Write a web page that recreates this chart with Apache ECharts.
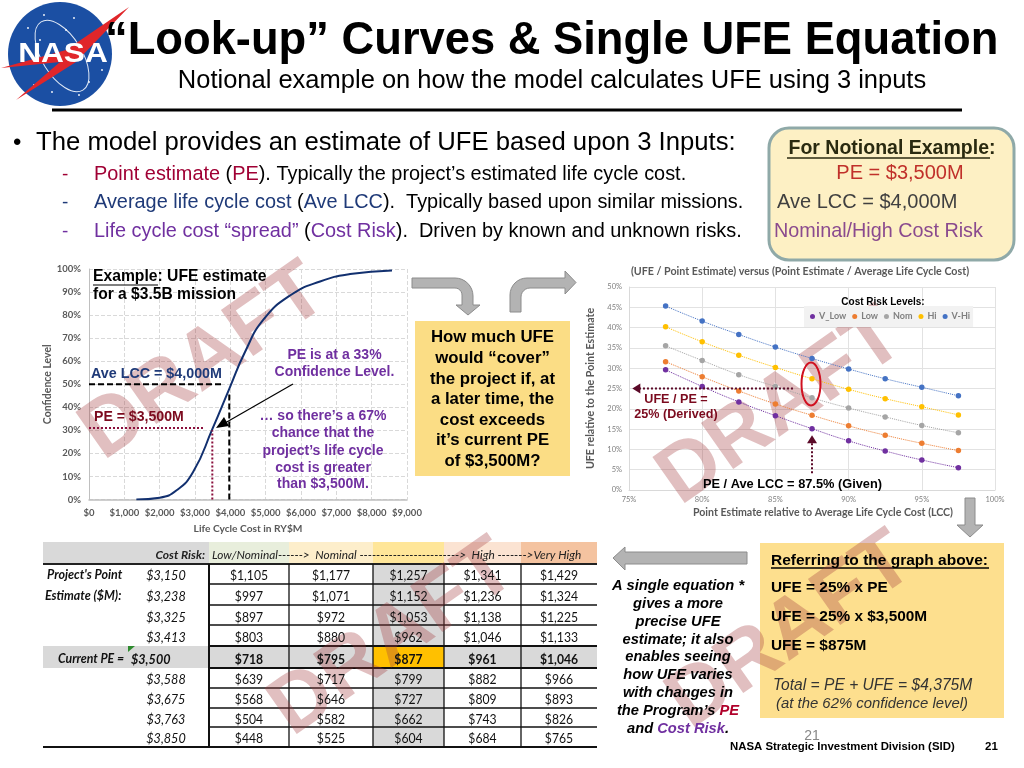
<!DOCTYPE html>
<html><head><meta charset="utf-8">
<style>html,body{margin:0;padding:0;background:#fff}#c{width:1024px;height:768px}</style>
<script src="https://cdn.jsdelivr.net/npm/echarts@6/dist/echarts.min.js"></script>
</head><body><div id="c"></div>
<script>
// ---------- data ----------
const curveCost = [1340,2000,2480,2950,3490,3970,4415,4935,5690,6540,7390,8575];
const curveConf = [0,0.8,4,12,30.5,48,64,78,88.5,94.6,97.8,99.4];
const aveLccH = [[0,50],[3750,50]];
const aveLccV = [[3970,0],[3970,46]];
const peH = [[0,31],[3235,31]];
const peV = [[3490,0],[3490,30]];

const ratio = [77.5,80,82.5,85,87.5,90,92.5,95,97.5];
const vLow = [29.6,25.5,21.7,18.3,15.1,12.1,9.6,7.4,5.5];
const low  = [31.6,27.9,24.4,21.2,18.4,15.8,13.5,11.5,9.7];
const nom  = [35.5,31.9,28.4,25.5,22.7,20.2,18.0,15.9,14.1];
const hi   = [40.2,36.5,33.2,30.2,27.4,24.8,22.5,20.5,18.5];
const vHi  = [45.3,41.6,38.3,35.2,32.4,29.8,27.4,25.3,23.2];
const riskNames = ['V_Low','Low','Nom','Hi','V-Hi'];
const riskColors = ['#7030a0','#ed7d31','#a5a5a5','#ffc000','#4472c4'];

const tablePE = [3150,3238,3325,3413,3500,3588,3675,3763,3850];
const tableLow = [1105,997,897,803,718,639,568,504,448];
const tableLowNom = [1177,1071,972,880,795,717,646,582,525];
const tableNom = [1257,1152,1053,962,877,799,727,662,604];
const tableHigh = [1341,1236,1138,1046,961,882,809,743,684];
const tableVHigh = [1429,1324,1225,1133,1046,966,893,826,765];

// ---------- fonts / helpers ----------
const AR = '"Liberation Sans", Arial, sans-serif';
const CA = 'Lato, "Open Sans", sans-serif';
const g = [];
function T(text,x,y,o){o=o||{};const size=o.size||14;
  g.push({type:'text',z:o.z||10,silent:true,rotation:o.rot||0,scaleX:o.sx||1,x:x,y:o.rot?y:y+size*0.08,
    style:{text:text,x:0,y:0,fontFamily:o.font||AR,fontSize:size,fontWeight:o.bold?'bold':'normal',
      fontStyle:o.italic?'italic':'normal',fill:o.color||'#000',align:o.align||'left',verticalAlign:'middle',
      rich:o.rich,opacity:o.opacity==null?1:o.opacity}});
}
function L(x1,y1,x2,y2,c,w,z,dash){g.push({type:'line',z:z||3,silent:true,shape:{x1,y1,x2,y2},style:{stroke:c,lineWidth:w,lineDash:dash}});}
function R(x,y,w,h,c,z,extra){g.push({type:'rect',z:z||1,silent:true,shape:Object.assign({x,y,width:w,height:h},extra&&extra.shape),style:Object.assign({fill:c},extra&&extra.style)});}
function P(points,fill,stroke,z,lw){g.push({type:'polygon',z:z||2,silent:true,shape:{points},style:{fill,stroke:stroke||null,lineWidth:lw==null?1:lw}});}
function arc(cx,cy,r,a0,a1,n){const o=[];for(let i=0;i<=n;i++){const a=(a0+(a1-a0)*i/n)*Math.PI/180;o.push([cx+r*Math.cos(a),cy+r*Math.sin(a)]);}return o;}

// ---------- logo ----------
g.push({type:'circle',z:2,silent:true,shape:{cx:60,cy:54,r:52},style:{fill:'#1b4fa3'}});
g.push({type:'ellipse',z:3,silent:true,rotation:0.55,x:62,y:56,shape:{cx:0,cy:0,rx:20,ry:40},style:{fill:null,stroke:'#dfe8f5',lineWidth:1}});
[[28,28],[44,15],[74,18],[94,35],[34,85],[52,92],[89,82],[102,70],[24,48],[66,30],[79,95],[40,40]].forEach(p=>
  g.push({type:'circle',z:3,silent:true,shape:{cx:p[0],cy:p[1],r:0.9},style:{fill:'#fff'}}));
P([[129,7],[66,50],[1,68],[60,62],[16,100],[76,62]],'#e0262a',null,3,0);
T('NASA',63,52,{size:28,bold:true,color:'#fff',align:'center',z:4,sx:1.13});

// ---------- header ----------
T('“Look-up” Curves & Single UFE Equation',105,38,{size:45.3,bold:true});
T('Notional example on how the model calculates UFE using 3 inputs',552,79,{size:25.5,align:'center'});
L(52,110,962,110,'#000',3);

// ---------- bullets ----------
T('•',13,141,{size:24});
T('The model provides an estimate of UFE based upon 3 Inputs:',36,141,{size:25.7});
const bodyTok=(c)=>({fill:c,fontFamily:AR,fontSize:19.9,fontWeight:'normal'});
const bRich={r:bodyTok('#a00034'),b:bodyTok('#1f3a78'),p:bodyTok('#7030a0'),k:bodyTok('#000')};
T('-',62,173,{size:19,color:'#a00034'});T('-',62,201,{size:19,color:'#1f3a78'});T('-',62,230,{size:19,color:'#7030a0'});
T('{r|Point estimate} {k|(}{r|PE}{k|). Typically the project’s estimated life cycle cost.}',94,173,{rich:bRich,size:19.9});
T('{b|Average life cycle cost} {k|(}{b|Ave LCC}{k|).  Typically based upon similar missions.}',94,201,{rich:bRich,size:19.9});
T('{p|Life cycle cost “spread”} {k|(}{p|Cost Risk}{k|).  Driven by known and unknown risks.}',94,230,{rich:bRich,size:19.9});

// notional box
R(769,128,245,132,'#fdf0c4',1,{shape:{r:20},style:{stroke:'#8fa9a8',lineWidth:3}});
T('For Notional Example:',892,147,{size:19.5,bold:true,align:'center',color:'#2a2a10'});
L(787,158,990,158,'#2a2a10',1.5);
T('PE = $3,500M',900,172,{size:20,align:'center',color:'#c0302a'});
T('Ave LCC = $4,000M',777,201,{size:20,color:'#404040'});
T('Nominal/High Cost Risk',774,230,{size:19.8,color:'#8a4a8e'});

// ---------- left chart annotations ----------
T('Example: UFE estimate',93,275,{size:15.7,bold:true});
L(93,285,158,285,'#000',1.2);
T('for a $3.5B mission',93,293,{size:15.6,bold:true});
T('Ave LCC = $4,000M',91,373,{size:14.3,bold:true,color:'#1f3a78'});
T('PE = $3,500M',94,416,{size:14.1,bold:true,color:'#7b0a1e'});
const purple='#7030a0';
[['PE is at a 33%',334.5,354],['Confidence Level.',334.5,371],['… so there’s a 67%',323,415],['chance that the',323,432],['project’s life cycle',323,450],['cost is greater',323,467],['than $3,500M.',323,483]]
 .forEach(a=>T(a[0],a[1],a[2],{size:14,bold:true,color:purple,align:'center'}));
L(293,384,225,423,'#000',1.2,8);
P([[216,428],[224,417],[229,426]],'#000',null,8,0);

// curved arrows & middle box
const curveA=[[412,278],[455,278]].concat(arc(455,296,18,-90,0,8),[[473,305],[480,305],[468,315],[456,305],[462,305]],arc(455,295,7,0,-90,6),[[412,288]]);
P(curveA,'#b3b3b3','#8c8c8c',2,1);
const curveB=[[510,312]].concat(arc(527,295,17,180,270,8),[[565,278],[565,271],[576,282.5],[565,294],[565,288],[530,288]],arc(530,297,9,270,180,6),[[521,312]]);
P(curveB,'#b3b3b3','#8c8c8c',2,1);
R(415,321,155,155,'#fbdd85',1);
[['How much UFE',336],['would “cover”',357],['the project if, at',378],['a later time, the',398],['cost exceeds',419],['it’s current PE',439],['of $3,500M?',460]]
 .forEach(a=>T(a[0],492.5,a[1],{size:16.8,bold:true,align:'center'}));

// ---------- right chart annotations ----------
T('(UFE / Point Estimate) versus (Point Estimate / Average Life Cycle Cost)',800,271,{font:CA,size:10.7,bold:true,color:'#595959',align:'center'});
T('Cost Risk Levels:',883,301,{size:10,bold:true,align:'center'});
L(842,307.5,924,307.5,'#000',1);
g.push({type:'ellipse',z:8,silent:true,shape:{cx:811,cy:384,rx:9.5,ry:21.5},style:{fill:null,stroke:'#d01020',lineWidth:2}});
T('UFE / PE =',676,399,{size:12.6,bold:true,color:'#7b0a1e',align:'center'});
T('25% (Derived)',676,414,{size:12.6,bold:true,color:'#7b0a1e',align:'center'});
T('PE / Ave LCC = 87.5% (Given)',792.5,483,{size:12.8,bold:true,align:'center'});
P([[965,498],[975,498],[975,525],[983,525],[970,537],[957,525],[965,525]],'#b3b3b3','#8c8c8c',2,1);

// ---------- table ----------
const colX=[209,289,373,444,521,597], rowY=[564,584,605,625,646,668,688,708,727,747], rowC=[574,595,616,636,658,678,698,718,737];
R(43,542,166,22,'#d9d9d9',1);
const hdr=['#e8eedc','#fdeecb','#ffe699','#fbe3d2','#f4c3a0'];
hdr.forEach((c,i)=>R(colX[i],542,colX[i+1]-colX[i],22,c,1));
R(373,564,71,183,'#d9d9d9',1);
R(43,646,554,22,'#d9d9d9',1);
R(373,647,71,20,'#ffc000',1);
T('Cost Risk:',205,554,{font:CA,size:12,bold:true,italic:true,align:'right',color:'#222'});
T('Low/Nominal------>  Nominal ------------------------>  High ------->Very High',212,554,{font:CA,size:11.85,italic:true,color:'#222'});
rowY.forEach((y,i)=>{const heavy=(i===0||i===4||i===5||i===9);L(i===9?43:209,y,597,y,i===0?'#222':'#111',heavy?2:1.3,3);});
L(43,564,209,564,'#222',2,3);
colX.slice(0,5).forEach((x,i)=>L(x,564,x,747,'#111',i===0?2:1.3,3));
const cols=[tableLow,tableLowNom,tableNom,tableHigh,tableVHigh];
const fmt=v=>'$'+v.toLocaleString('en-US');
tablePE.forEach((pe,r)=>{
  const cur=r===4;
  if(cur)T(fmt(pe),131,rowC[r],{font:CA,size:14,bold:true,italic:true,color:'#111',sx:0.9});
  else T(fmt(pe),166,rowC[r],{font:CA,size:14,italic:true,align:'center',color:'#111',sx:0.9});
  cols.forEach((col,c)=>T(fmt(col[r]),(colX[c]+colX[c+1])/2,rowC[r],{font:CA,size:14,bold:cur,align:'center',color:'#111',sx:0.87}));
});
T('Project\'s Point',47,574,{font:CA,size:12.5,bold:true,italic:true,color:'#111'});
T('Estimate ($M):',45,595,{font:CA,size:12.4,bold:true,italic:true,color:'#111'});
T('Current PE =',58,658,{font:CA,size:12.3,bold:true,italic:true,color:'#111'});
P([[128,646],[135,646],[128,652]],'#2e8b2e',null,4,0);

// ---------- lower right ----------
P([[613,558],[625,547],[625,552],[747,552],[747,564],[625,564],[625,570]],'#b3b3b3','#8c8c8c',2,1);
const itTok=(c)=>({fill:c,fontFamily:AR,fontSize:14.7,fontWeight:'bold',fontStyle:'italic'});
[['A single equation *',585],['gives a more',603],['precise UFE',621],['estimate; it also',639],['enables seeing',656],['how UFE varies',674],['with changes in',692]]
 .forEach(a=>T(a[0],678,a[1],{size:14.7,bold:true,italic:true,align:'center'}));
T('{k|the Program’s }{r|PE}',678,710,{size:14.7,bold:true,italic:true,align:'center',rich:{k:itTok('#000'),r:itTok('#b0002a')}});
T('{k|and }{p|Cost Risk}{k|.}',678,728,{size:14.7,bold:true,italic:true,align:'center',rich:{k:itTok('#000'),p:itTok(purple)}});
R(760,543,244,175,'#fddf8e',1);
T('Referring to the graph above:',771,559,{size:15.5,bold:true});
L(771,568,989,568,'#000',1.3);
T('UFE = 25% x PE',771,587,{size:15.4,bold:true});
T('UFE = 25% x $3,500M',771,616,{size:15.4,bold:true});
T('UFE = $875M',771,645,{size:15.4,bold:true});
T('Total = PE + UFE = $4,375M',773,684,{size:15.6,italic:true,color:'#333'});
T('(at the 62% confidence level)',776,703,{size:14.9,italic:true,color:'#333'});
T('21',812,735,{size:14,color:'#888',align:'center'});
T('NASA Strategic Investment Division (SID)',730,746,{size:11.4,bold:true});
T('21',985,746,{size:11.5,bold:true});

// ---------- DRAFT watermarks ----------
[[204,363],[781,408],[393,639],[791,632]].forEach(p=>
  T('DRAFT',p[0],p[1],{size:82,bold:true,align:'center',rot:35*Math.PI/180,color:'rgba(165,60,65,0.33)',z:5}));

// ---------- series ----------
const ax={fontFamily:CA,fontWeight:'bold'};
const rows=[vLow,low,nom,hi,vHi];
const series=[
  {name:'CDF',type:'line',xAxisIndex:0,yAxisIndex:0,smooth:0.5,showSymbol:false,z:6,data:curveCost.map((x,i)=>[x,curveConf[i]]),lineStyle:{color:'#12306f',width:2}},
  {type:'line',xAxisIndex:0,yAxisIndex:0,showSymbol:false,z:6,data:aveLccH,lineStyle:{color:'#000',width:2,type:[6,3]}},
  {type:'line',xAxisIndex:0,yAxisIndex:0,showSymbol:false,z:6,data:aveLccV,lineStyle:{color:'#000',width:2,type:[6,3]}},
  {type:'line',xAxisIndex:0,yAxisIndex:0,showSymbol:false,z:6,data:peH,lineStyle:{color:'#8a0f3c',width:2,type:[2,2]}},
  {type:'line',xAxisIndex:0,yAxisIndex:0,showSymbol:false,z:6,data:peV,lineStyle:{color:'#8a0f3c',width:2,type:[2,2]}}
];
rows.forEach((v,i)=>series.push({name:riskNames[i],type:'line',xAxisIndex:1,yAxisIndex:1,smooth:true,z:6,symbol:'circle',symbolSize:5.5,
  itemStyle:{color:riskColors[i]},lineStyle:{color:riskColors[i],width:1,type:'dotted'},data:ratio.map((x,j)=>[x,v[j]])}));
series.push({type:'line',xAxisIndex:1,yAxisIndex:1,z:7,lineStyle:{color:'#5b0a28',width:2,type:[2,2]},itemStyle:{color:'#5b0a28'},
  data:[{value:[86.2,25],symbol:'none'},{value:[75.5,25],symbol:'triangle',symbolSize:[10,8],symbolRotate:90}]});
series.push({type:'line',xAxisIndex:1,yAxisIndex:1,z:7,lineStyle:{color:'#5b0a28',width:2,type:[2,2]},itemStyle:{color:'#5b0a28'},
  data:[{value:[87.5,4.1],symbol:'none'},{value:[87.5,12.5],symbol:'triangle',symbolSize:[10,8]}]});

const chart=echarts.init(document.getElementById('c'),null,{renderer:'canvas'});
chart.setOption({
  animation:false,backgroundColor:'#fff',
  grid:[{left:89,right:617,top:269,bottom:268.5,containLabel:false},{left:629,right:29,top:287,bottom:278}],
  xAxis:[
    {type:'value',gridIndex:0,min:0,max:9000,interval:1000,name:'Life Cycle Cost in RY$M',nameLocation:'middle',nameGap:24,
     nameTextStyle:Object.assign({fontSize:10.2,color:'#595959'},ax),
     axisLine:{lineStyle:{color:'#bfbfbf',width:1.5}},axisTick:{show:false},
     axisLabel:Object.assign({fontSize:9.5,color:'#595959',margin:8,formatter:v=>'$'+v.toLocaleString('en-US')},ax),
     splitLine:{show:true,lineStyle:{color:'#d9d9d9',type:'dashed'}}},
    {type:'value',gridIndex:1,min:75,max:100,interval:5,name:'Point Estimate relative to Average Life Cycle Cost (LCC)',nameLocation:'middle',nameGap:17,
     nameTextStyle:Object.assign({fontSize:10.6,color:'#595959',padding:[0,0,0,22]},ax),
     axisLine:{lineStyle:{color:'#d9d9d9'}},axisTick:{show:false},
     axisLabel:{fontFamily:CA,fontSize:7.5,color:'#7f7f7f',margin:6,formatter:'{value}%'},
     splitLine:{show:true,lineStyle:{color:'#e2e2e2'}}}
  ],
  yAxis:[
    {type:'value',gridIndex:0,min:0,max:100,interval:10,name:'Confidence Level',nameLocation:'middle',nameGap:36,
     nameTextStyle:Object.assign({fontSize:10.5,color:'#595959'},ax),
     axisLine:{show:true,lineStyle:{color:'#bfbfbf'}},axisTick:{show:false},
     axisLabel:Object.assign({fontSize:9.5,color:'#595959',margin:8,formatter:'{value}%'},ax),
     splitLine:{show:true,lineStyle:{color:'#d9d9d9',type:'dashed'}}},
    {type:'value',gridIndex:1,min:0,max:50,interval:5,name:'UFE relative to the Point Estimate',nameLocation:'middle',nameGap:33,
     nameTextStyle:Object.assign({fontSize:10.7,color:'#595959'},ax),
     axisLine:{show:true,lineStyle:{color:'#d9d9d9'}},axisTick:{show:false},
     axisLabel:{fontFamily:CA,fontSize:7.5,color:'#7f7f7f',margin:7,formatter:'{value}%'},
     splitLine:{show:true,lineStyle:{color:'#e2e2e2'}}}
  ],
  legend:{data:riskNames,icon:'circle',left:804,top:306,z:6,itemWidth:5,itemHeight:5,itemGap:6,padding:[6,3,6,6],backgroundColor:'#f2f2f2',
    textStyle:{fontFamily:CA,fontSize:9,fontWeight:'bold',color:'#7f7f7f',padding:[0,0,0,-1]}},
  tooltip:{show:false},
  series:series,
  graphic:{elements:g}
});
</script></body></html>
